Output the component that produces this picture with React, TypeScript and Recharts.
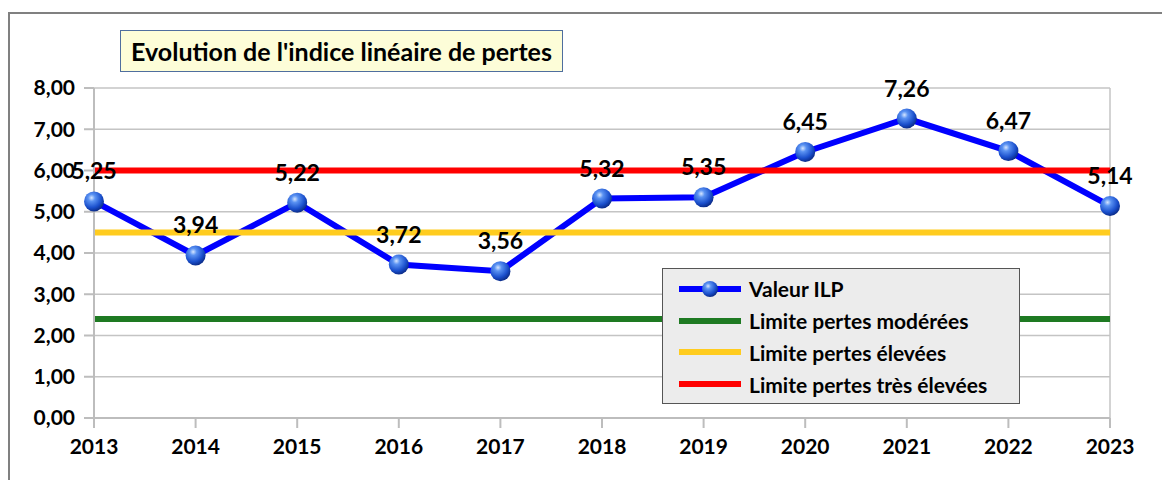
import { LineChart, Line, XAxis, YAxis, CartesianGrid, ReferenceLine, LabelList } from "recharts";

const YEARS = ["2013", "2014", "2015", "2016", "2017", "2018", "2019", "2020", "2021", "2022", "2023"];
const ILP = [5.25, 3.94, 5.22, 3.72, 3.56, 5.32, 5.35, 6.45, 7.26, 6.47, 5.14];
const LIMITE_MODEREES = 2.4;
const LIMITE_ELEVEES = 4.5;
const LIMITE_TRES_ELEVEES = 6.0;
const Y_TICKS = [0, 1, 2, 3, 4, 5, 6, 7, 8];

const TITLE = "Evolution de l'indice linéaire de pertes";
const SERIES = [
  { key: "ilp", name: "Valeur ILP", color: "#0000ff", sphere: true },
  { key: "moderees", name: "Limite pertes modérées", color: "#1e7a22", sphere: false },
  { key: "elevees", name: "Limite pertes élevées", color: "#ffcc1f", sphere: false },
  { key: "tresElevees", name: "Limite pertes très élevées", color: "#ff0000", sphere: false },
];

const data = YEARS.map((year, i) => ({
  year,
  ilp: ILP[i],
  moderees: LIMITE_MODEREES,
  elevees: LIMITE_ELEVEES,
  tresElevees: LIMITE_TRES_ELEVEES,
}));

const FONT = "Lato, 'Open Sans', sans-serif";
const fr = (v: number) => Number(v).toFixed(2).replace(".", ",");

function SphereDot(props: any) {
  const { cx, cy, index } = props;
  if (cx == null || cy == null) return null;
  return <circle key={index} cx={cx} cy={cy} r={10} fill="url(#sphere)" />;
}

// legend drawn as a box over the plot, like the original
function ChartLegend() {
  return (
    <div
      style={{
        position: "absolute",
        left: 652,
        top: 254,
        width: 358,
        height: 136,
        background: "#ececec",
        border: "1.5px solid #555",
        boxSizing: "border-box",
        padding: "4px 0 0 16px",
        fontFamily: FONT,
        fontWeight: 700,
        fontSize: 21,
        color: "#000",
        whiteSpace: "nowrap",
        zIndex: 2,
      }}
    >
      {SERIES.map((s) => (
        <div key={s.key} style={{ display: "flex", alignItems: "center", height: 31.8 }}>
          <svg width={62} height={20} style={{ marginRight: 8 }}>
            <line x1={0} x2={62} y1={10} y2={10} stroke={s.color} strokeWidth={6} />
            {s.sphere && <circle cx={31} cy={10} r={8} fill="url(#sphere)" />}
          </svg>
          <span>{s.name}</span>
        </div>
      ))}
    </div>
  );
}

export default function App() {
  const tick = { fill: "#000", fontSize: 21, fontWeight: 700, fontFamily: FONT };
  return (
    <div
      style={{
        position: "absolute",
        left: 8,
        top: 12,
        width: 1154,
        height: 468,
        overflow: "hidden",
        borderLeft: "2px solid #808080",
        borderTop: "2px solid #808080",
        background: "#fff",
      }}
    >
      <svg width={0} height={0} style={{ position: "absolute" }}>
        <defs>
          <radialGradient id="sphere" cx="38%" cy="32%" r="70%">
            <stop offset="0%" stopColor="#d6e6ff" />
            <stop offset="25%" stopColor="#5a92f2" />
            <stop offset="70%" stopColor="#1a4fcc" />
            <stop offset="100%" stopColor="#0a2a86" />
          </radialGradient>
        </defs>
      </svg>
      <div
        style={{
          position: "absolute",
          left: 110,
          top: 16,
          width: 443,
          height: 42,
          background: "#fdfdd8",
          border: "1px solid #4f6e9e",
          boxSizing: "border-box",
          display: "flex",
          alignItems: "center",
          justifyContent: "center",
          fontFamily: FONT,
          fontWeight: 700,
          fontSize: 25,
          color: "#000",
          whiteSpace: "nowrap",
          zIndex: 2,
        }}
      >
        {TITLE}
      </div>
      <ChartLegend />
      <LineChart width={1152} height={466} data={data} margin={{ top: 74, right: 52, left: 0, bottom: 32 }}>
        <CartesianGrid vertical={false} stroke="#c4c4c4" strokeWidth={1.5} />
        <XAxis
          dataKey="year"
          tick={tick}
          tickSize={10}
          tickMargin={11}
          height={30}
          stroke="#bdbdbd"
          strokeWidth={2}
          interval={0}
        />
        <YAxis
          domain={[0, 8]}
          ticks={Y_TICKS}
          interval={0}
          tickFormatter={fr}
          tick={tick}
          tickSize={10}
          tickMargin={9}
          width={84}
          stroke="#bdbdbd"
          strokeWidth={2}
        />
        <ReferenceLine x={YEARS[YEARS.length - 1]} stroke="#c4c4c4" strokeWidth={1.5} />
        <Line
          dataKey="ilp"
          stroke="#0000ff"
          strokeWidth={6}
          dot={<SphereDot />}
          activeDot={false}
          isAnimationActive={false}
        />
        <Line dataKey="moderees" stroke="#1e7a22" strokeWidth={6} dot={false} activeDot={false} isAnimationActive={false} />
        <Line dataKey="elevees" stroke="#ffcc1f" strokeWidth={6} dot={false} activeDot={false} isAnimationActive={false} />
        <Line dataKey="tresElevees" stroke="#ff0000" strokeWidth={6} dot={false} activeDot={false} isAnimationActive={false} />
        <Line dataKey="ilp" stroke="none" dot={false} activeDot={false} isAnimationActive={false} legendType="none">
          <LabelList
            dataKey="ilp"
            position="top"
            offset={22}
            formatter={(v: any) => fr(v)}
            fill="#000"
            fontSize={23}
            fontWeight={700}
            fontFamily={FONT}
            style={{ fill: "#000", fontSize: 23, fontWeight: 700, fontFamily: FONT }}
          />
        </Line>
      </LineChart>
    </div>
  );
}
